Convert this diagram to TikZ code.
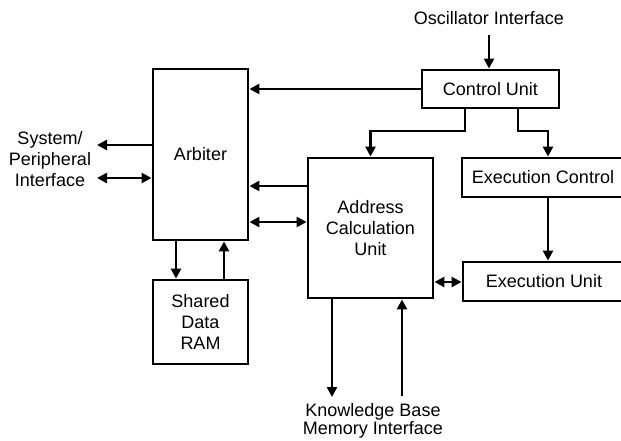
\documentclass[tikz,border=0pt]{standalone}
\usepackage{fontspec}
\setmainfont{Liberation Sans}
\usetikzlibrary{arrows.meta}
\begin{document}
\begin{tikzpicture}[x=1pt,y=-1pt,
  box/.style={draw, line width=2.9pt, inner sep=0pt, align=center},
  lbl/.style={inner sep=0pt, align=center},
  conn/.style={line width=2.8pt, arrows={-Triangle[length=10pt,width=10pt]}},
  dconn/.style={line width=2.8pt, arrows={Triangle[length=10pt,width=10pt]-Triangle[length=10pt,width=10pt]}},
  font=\fontsize{18}{21}\selectfont]
\useasboundingbox (0,0) rectangle (621,440);
\clip (0,0) rectangle (621,440);
\fill[white] (0,0) rectangle (621,440);

\node[box, minimum width=95pt, minimum height=171pt] (arb) at (200.5,154.5) {Arbiter};
\node[box, minimum width=95pt, minimum height=84pt] (ram) at (200.5,322) {Shared\\Data\\RAM};
\node[box, minimum width=125pt, minimum height=140pt] (acu) at (370.5,228) {Address\\Calculation\\Unit};
\node[box, minimum width=137pt, minimum height=38pt] (cu) at (490.5,89) {Control Unit};
\node[box, minimum width=162pt, minimum height=39pt] (ec) at (543,177.5) {Execution Control};
\node[box, minimum width=162pt, minimum height=39pt] (eu) at (544,281.5) {Execution Unit};

\node[lbl] (osc) at (489,18) {Oscillator Interface};
\node[lbl] (sys) at (50,159) {System/\\Peripheral\\Interface};
\node[lbl] (kb) at (373,421) {Knowledge Base\\[-2.7pt]Memory Interface};

\coordinate (oscend) at (489,35);
\coordinate (sysout) at (97,145);
\coordinate (sysio) at (97,178);
\coordinate (kbout) at (332,397);
\coordinate (kbin) at (402,396);

% connectors
\draw[conn] (oscend) -- (oscend |- cu.north);
\draw[conn] (cu.west) -- (cu.west -| arb.east);
\draw[conn] (cu.south -| 465,0) -- (465,131) -| (acu.north);
\draw[conn] (cu.south -| 518,0) -- (518,131) -| (ec.north -| 548,0);
\draw[conn] (ec.south -| 548,0) -- (eu.north -| 548,0);
\draw[dconn] (acu.east |- 0,282) -- (eu.west |- 0,282);
\draw[conn] (acu.west |- 0,186) -- (arb.east |- 0,186);
\draw[dconn] (arb.east |- 0,222) -- (acu.west |- 0,222);
\draw[conn] (arb.south -| 176,0) -- (ram.north -| 176,0);
\draw[conn] (ram.north -| 224,0) -- (arb.south -| 224,0);
\draw[conn] (acu.south -| kbout) -- (kbout);
\draw[conn] (kbin) -- (acu.south -| kbin);
\draw[conn] (arb.west |- sysout) -- (sysout);
\draw[dconn] (sysio) -- (arb.west |- sysio);
\end{tikzpicture}
\end{document}
